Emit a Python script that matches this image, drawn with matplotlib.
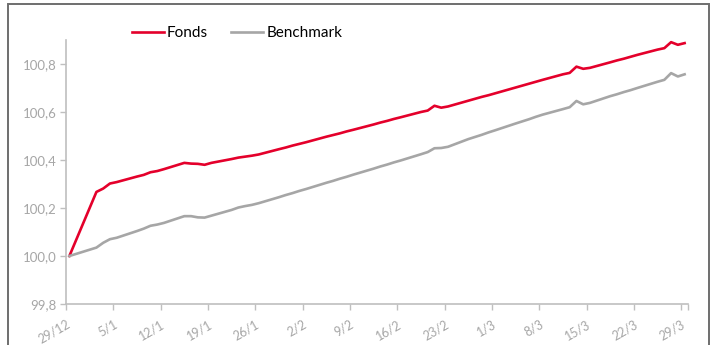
import matplotlib
matplotlib.use("Agg")
import matplotlib.pyplot as plt
import matplotlib.transforms as mtransforms
from matplotlib.patches import Rectangle
import pandas as pd

# Business days from 29/12/2023 to 29/3/2024 (New Year's Day closed)
dates = pd.bdate_range("2023-12-29", "2024-03-29", freq="C", holidays=["2024-01-01"])

fonds = [
    100.000,
    100.267, 100.281, 100.302, 100.308,
    100.331, 100.338, 100.349, 100.354, 100.362,
    100.388, 100.385, 100.384, 100.380, 100.388,
    100.404, 100.410, 100.414, 100.418, 100.423,
    100.445, 100.452, 100.460, 100.467, 100.474,
    100.497, 100.504, 100.511, 100.519, 100.526,
    100.548, 100.556, 100.563, 100.571, 100.578,
    100.600, 100.606, 100.626, 100.618, 100.623,
    100.647, 100.655, 100.663, 100.670, 100.678,
    100.702, 100.710, 100.718, 100.726, 100.734,
    100.757, 100.763, 100.789, 100.780, 100.784,
    100.807, 100.815, 100.822, 100.830, 100.838,
    100.860, 100.866, 100.891, 100.880, 100.887,
]

benchmark = [
    100.000,
    100.035, 100.055, 100.070, 100.076,
    100.104, 100.114, 100.126, 100.131, 100.138,
    100.166, 100.166, 100.161, 100.160, 100.168,
    100.192, 100.202, 100.208, 100.213, 100.220,
    100.245, 100.254, 100.262, 100.271, 100.279,
    100.305, 100.313, 100.322, 100.330, 100.339,
    100.364, 100.373, 100.381, 100.390, 100.398,
    100.424, 100.433, 100.449, 100.450, 100.455,
    100.487, 100.496, 100.505, 100.515, 100.524,
    100.552, 100.561, 100.570, 100.580, 100.589,
    100.612, 100.620, 100.646, 100.632, 100.638,
    100.666, 100.674, 100.683, 100.691, 100.700,
    100.726, 100.734, 100.762, 100.748, 100.757,
]

series_names = ["Fonds", "Benchmark"]
x_tick_labels = ["29/12", "5/1", "12/1", "19/1", "26/1", "2/2", "9/2",
                 "16/2", "23/2", "1/3", "8/3", "15/3", "22/3", "29/3"]
y_ticks = [99.8, 100.0, 100.2, 100.4, 100.6, 100.8]

RED = "#E4002B"
GREY = "#A6A6A6"
AXIS = "#BFBFBF"
LABEL = "#A6A6A6"

plt.rcParams["font.family"] = ["Lato", "DejaVu Sans"]

fig = plt.figure(figsize=(7.15, 3.45), dpi=100)
ax = fig.add_axes([66 / 715, 1 - 304 / 345, (688 - 66) / 715, (304 - 40) / 345])

# points sit in the middle of each day slot
xs = dates + pd.Timedelta(hours=12)
ax.plot(xs, fonds, color=RED, lw=1.9, label=series_names[0], solid_joinstyle="round")
ax.plot(xs, benchmark, color=GREY, lw=1.9, label=series_names[1], solid_joinstyle="round")

start = pd.Timestamp("2023-12-29")
ax.set_xlim(start, pd.Timestamp("2024-03-30"))
ax.set_ylim(99.8, 100.9)

tick_dates = pd.date_range(start, periods=len(x_tick_labels), freq="7D")
ax.set_xticks(tick_dates)
ax.set_xticks([pd.Timestamp("2024-03-30")], minor=True)
ax.set_xticklabels([])

ax.set_yticks(y_ticks)
ax.set_yticklabels([f"{v:.1f}".replace(".", ",") for v in y_ticks])

for side in ("top", "right"):
    ax.spines[side].set_visible(False)
for side in ("left", "bottom"):
    ax.spines[side].set_color(AXIS)
    ax.spines[side].set_linewidth(1.2)

ax.tick_params(axis="both", which="both", direction="out", length=4, width=1,
               color=AXIS, labelcolor=LABEL)
ax.tick_params(axis="y", pad=3, labelsize=9.5)

# rotated date labels, anchored at their right end just below each tick
label_shift = mtransforms.ScaledTranslation(3 / 100, -19 / 100, fig.dpi_scale_trans)
label_trans = ax.get_xaxis_transform() + label_shift
for d, txt in zip(tick_dates, x_tick_labels):
    ax.text(d, 0, txt, transform=label_trans, rotation=30, rotation_mode="anchor",
            ha="right", va="center", fontsize=9, color=LABEL, clip_on=False)

fig.legend(loc="center", bbox_to_anchor=(237 / 715, 1 - 33 / 345), ncol=2,
           frameon=False, fontsize=11, handlelength=2.1, handletextpad=0.2,
           columnspacing=1.5)

# outer chart frame
fig.patches.append(Rectangle((8 / 715, -0.05), (709 - 8) / 715, 1.05 - 4 / 345,
                             transform=fig.transFigure, fill=False,
                             edgecolor="#6E6E6E", lw=1.4))

fig.savefig("out.png", dpi=100)
